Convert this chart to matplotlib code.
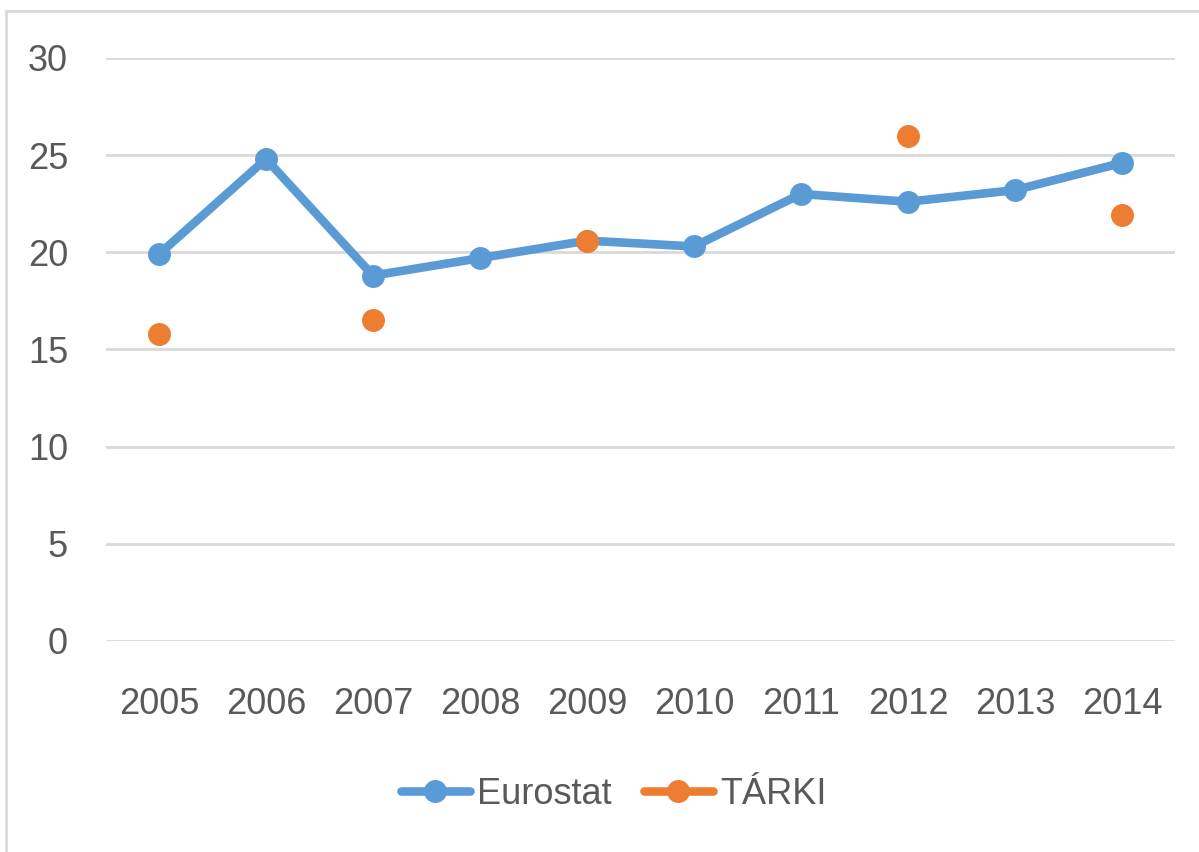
import matplotlib.pyplot as plt
import numpy as np
from matplotlib.patches import Rectangle

years = ['2005', '2006', '2007', '2008', '2009', '2010', '2011', '2012', '2013', '2014']
eurostat = [19.9, 24.8, 18.8, 19.7, 20.6, 20.3, 23.0, 22.6, 23.2, 24.6]
tarki = [15.8, np.nan, 16.5, np.nan, 20.6, np.nan, np.nan, 26.0, np.nan, 21.9]
yticks = [0, 5, 10, 15, 20, 25, 30]

plt.rcParams['font.family'] = ['Liberation Sans', 'DejaVu Sans']
text_color = '#595959'
grid_color = '#D9D9D9'

fig = plt.figure(figsize=(11.99, 8.52), dpi=100)
ax = fig.add_axes([0.088, 0.2477, 0.8924, 0.6843])

x = np.arange(len(years))
ax.plot(x, eurostat, color='#5B9BD5', linewidth=6.2, marker='o', markersize=15.5,
        solid_capstyle='round', label='Eurostat', zorder=3)
# missing years are NaN, so the orange points stay unconnected
ax.plot(x, tarki, color='#ED7D31', linewidth=6.2, marker='o', markersize=15.5,
        solid_capstyle='round', label='TÁRKI', zorder=4)

ax.set_xlim(-0.5, len(years) - 0.5)
ax.set_ylim(0, 30)
ax.set_xticks(x)
ax.set_xticklabels(years)
ax.set_yticks(yticks)
ax.yaxis.grid(True, color=grid_color, linewidth=2)
ax.set_axisbelow(True)
for s in ax.spines.values():
    s.set_visible(False)
ax.tick_params(axis='both', length=0, labelsize=26, colors=text_color)
ax.tick_params(axis='y', pad=27)
ax.tick_params(axis='x', pad=33)

leg = ax.legend(loc='center', bbox_to_anchor=(0.475, -0.263), ncol=2, frameon=False,
                fontsize=26, handlelength=1.9, columnspacing=0.9, handletextpad=0.2)
for t in leg.get_texts():
    t.set_color(text_color)

# chart area border
fig.patches.append(Rectangle((6 / 1199, -0.1), 1.2, (852 - 11) / 852 + 0.1,
                             transform=fig.transFigure, fill=False,
                             edgecolor=grid_color, linewidth=2))

fig.savefig('out.png', dpi=100)
